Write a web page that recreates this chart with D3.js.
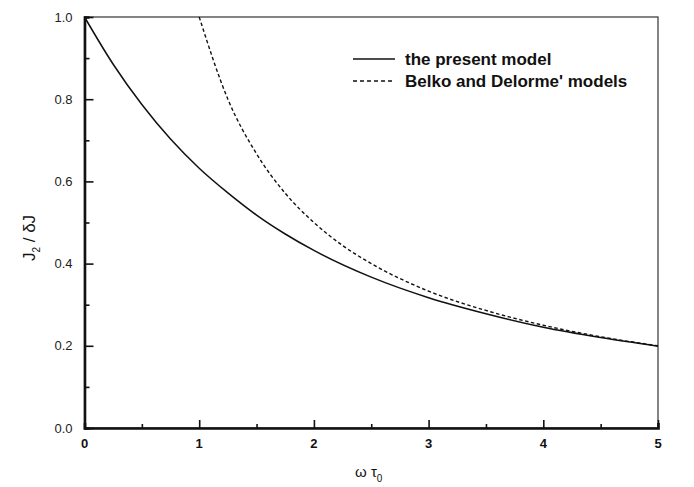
<!DOCTYPE html>
<html>
<head>
<meta charset="utf-8">
<script src="https://cdn.jsdelivr.net/npm/d3@7"></script>
<style>
  html, body { margin: 0; padding: 0; background: #fff; }
  svg { display: block; font-family: "Liberation Sans", Arial, sans-serif; }
</style>
</head>
<body>
<svg id="chart" width="694" height="487"></svg>
<script>
// values
const presentX = [0, 0.25, 0.5, 0.75, 1, 1.25, 1.5, 1.75, 2, 2.5, 3, 3.5, 4, 4.5, 5];
const presentY = [1.0, 0.885, 0.787, 0.703, 0.632, 0.572, 0.518, 0.472, 0.432, 0.367, 0.317, 0.278, 0.245, 0.220, 0.199];
const belkoX = [1, 1.25, 1.5, 1.75, 2, 2.25, 2.5, 3, 3.5, 4, 4.5, 5];
const belkoY = [1.0, 0.80, 0.667, 0.571, 0.50, 0.444, 0.40, 0.333, 0.286, 0.25, 0.222, 0.20];
const xTicks = [0, 1, 2, 3, 4, 5];
const yTicks = [0.0, 0.2, 0.4, 0.6, 0.8, 1.0];
const legendLabels = ['the present model', "Belko and Delorme' models"];

const svg = d3.select('#chart');
const plotLeft = 84.5, plotRight = 658, plotTop = 17, plotBottom = 428;

const x = d3.scaleLinear().domain([0, 5]).range([plotLeft, plotRight]);
const y = d3.scaleLinear().domain([0, 1]).range([plotBottom, plotTop]);

// frame
svg.append('rect')
    .attr('x', plotLeft).attr('y', plotTop)
    .attr('width', plotRight - plotLeft).attr('height', plotBottom - plotTop)
    .attr('fill', 'none').attr('stroke', '#333').attr('stroke-width', 1.2);

// bottom axis, ticks pointing inward
const xAxis = svg.append('g').attr('transform', `translate(0,${plotBottom})`);
xAxis.call(d3.axisBottom(x).tickValues(d3.range(0, 5.01, 0.5)).tickSize(-5).tickFormat(''));
xAxis.selectAll('.tick line')
    .attr('y2', (d, i) => (i % 2 === 0 ? -8 : -4))
    .attr('stroke', '#111').attr('stroke-width', 1.6);
xAxis.select('.domain').attr('stroke', '#111').attr('stroke-width', 2.6);

xAxis.selectAll('text.lbl')
    .data(xTicks)
    .enter()
    .append('text')
    .attr('class', 'lbl')
    .attr('x', d => x(d))
    .attr('y', 20)
    .attr('text-anchor', 'middle')
    .attr('font-size', 13)
    .attr('font-weight', 'bold')
    .attr('fill', '#111')
    .text(d => d);

// left axis
const yAxis = svg.append('g').attr('transform', `translate(${plotLeft},0)`);
yAxis.call(d3.axisLeft(y).tickValues(d3.range(0, 1.01, 0.1)).tickSize(-5).tickFormat(''));
yAxis.selectAll('.tick line')
    .attr('x2', (d, i) => (i % 2 === 0 ? 9 : 5))
    .attr('stroke', '#111').attr('stroke-width', 1.6);
yAxis.select('.domain').attr('stroke', '#111').attr('stroke-width', 2.6);

yAxis.selectAll('text.lbl')
    .data(yTicks)
    .enter()
    .append('text')
    .attr('class', 'lbl')
    .attr('x', -12)
    .attr('y', d => y(d))
    .attr('dy', '0.35em')
    .attr('text-anchor', 'end')
    .attr('font-size', 13)
    .attr('fill', '#222')
    .text(d => d.toFixed(1));

// curves
const line = d3.line()
    .x(d => x(d[0]))
    .y(d => y(d[1]))
    .curve(d3.curveMonotoneX);

svg.append('path')
    .datum(d3.zip(presentX, presentY))
    .attr('d', line)
    .attr('fill', 'none')
    .attr('stroke', '#111')
    .attr('stroke-width', 1.5);

svg.append('path')
    .datum(d3.zip(belkoX, belkoY))
    .attr('d', line)
    .attr('fill', 'none')
    .attr('stroke', '#111')
    .attr('stroke-width', 1.4)
    .attr('stroke-dasharray', '3.5,2.5');

// legend
const legend = svg.append('g').attr('transform', 'translate(353,59)');
legendLabels.forEach((label, i) => {
    const row = legend.append('g').attr('transform', `translate(0,${i * 22})`);
    row.append('line')
        .attr('x1', 0).attr('x2', 42)
        .attr('stroke', '#111')
        .attr('stroke-width', 1.4)
        .attr('stroke-dasharray', i === 1 ? '4,3' : null);
    row.append('text')
        .attr('x', 52)
        .attr('dy', '0.35em')
        .attr('font-size', 17)
        .attr('font-weight', 'bold')
        .attr('fill', '#111')
        .text(label);
});

// axis titles
const yTitle = svg.append('text')
    .attr('transform', 'translate(35,238) rotate(-90)')
    .attr('text-anchor', 'middle')
    .attr('font-size', 17)
    .attr('fill', '#111');
yTitle.append('tspan').text('J');
yTitle.append('tspan').attr('font-size', 10).attr('dy', 5).text('2');
yTitle.append('tspan').attr('dy', -5).text(' / δJ');

const xTitle = svg.append('text')
    .attr('x', 355)
    .attr('y', 477)
    .attr('text-anchor', 'start')
    .attr('font-size', 15)
    .attr('fill', '#111');
xTitle.append('tspan').text('ω τ');
xTitle.append('tspan').attr('font-size', 10).attr('dy', 5).text('0');
</script>
</body>
</html>
